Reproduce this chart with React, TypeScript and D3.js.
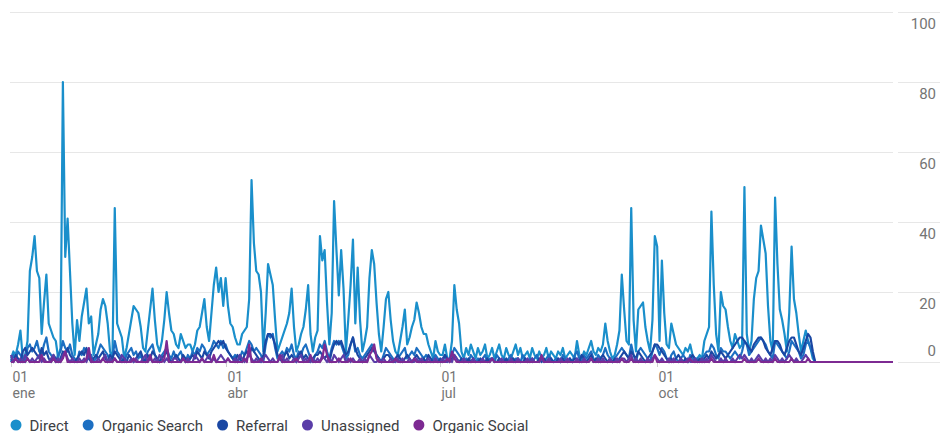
import React, { useEffect, useRef } from 'react';
import * as d3 from 'd3';

const WIDTH = 940;
const HEIGHT = 433;
const DAY = 86400000;

// daily data, 1 Jan 2024 onwards
const startDate = Date.UTC(2024, 0, 1);
const endDate = Date.UTC(2025, 0, 9);

const seriesNames = ['Direct', 'Organic Search', 'Referral', 'Unassigned', 'Organic Social'];
const seriesColors = ['#1a8fcb', '#1c6fc2', '#1a47a3', '#5a3da8', '#7d2a92'];

const direct = [
  1, 3, 2, 5, 9, 1, 2, 6, 26, 30,
  36, 26, 24, 8, 17, 25, 11, 9, 7, 6,
  1, 4, 80, 30, 41, 26, 11, 2, 12, 6,
  13, 17, 21, 11, 13, 2, 5, 8, 15, 18,
  16, 11, 3, 1, 44, 11, 9, 7, 1, 4,
  8, 12, 16, 15, 14, 10, 4, 3, 9, 15,
  21, 12, 5, 3, 6, 12, 20, 14, 9, 8,
  5, 4, 8, 6, 4, 5, 5, 3, 5, 9,
  10, 14, 18, 10, 6, 14, 22, 27, 20, 24,
  16, 24, 16, 11, 10, 7, 5, 5, 8, 9,
  10, 18, 52, 34, 26, 25, 20, 3, 14, 28,
  25, 22, 12, 3, 5, 7, 9, 11, 14, 21,
  10, 3, 5, 8, 10, 15, 22, 8, 3, 7,
  9, 36, 29, 32, 17, 5, 14, 46, 32, 19,
  32, 21, 3, 12, 22, 35, 11, 27, 12, 3,
  6, 10, 24, 32, 28, 17, 8, 3, 10, 18,
  20, 12, 6, 3, 2, 6, 10, 15, 5, 7,
  10, 12, 17, 14, 10, 8, 8, 5, 3, 1,
  6, 3, 2, 2, 5, 1, 1, 6, 22, 15,
  11, 3, 1, 4, 2, 5, 3, 1, 4, 2,
  3, 5, 1, 2, 4, 1, 3, 5, 2, 1,
  4, 2, 1, 3, 5, 2, 4, 1, 2, 3,
  1, 4, 2, 1, 3, 1, 2, 4, 1, 3,
  2, 1, 3, 2, 4, 1, 2, 3, 2, 1,
  6, 2, 1, 3, 2, 4, 6, 3, 2, 4,
  3, 5, 11, 6, 3, 1, 2, 5, 9, 25,
  15, 6, 5, 44, 12, 3, 15, 16, 17, 10,
  6, 3, 12, 36, 33, 6, 29, 14, 5, 4,
  11, 8, 5, 4, 3, 2, 4, 3, 5, 2,
  1, 1, 2, 1, 6, 8, 10, 43, 22, 8,
  3, 20, 16, 15, 10, 6, 4, 8, 6, 4,
  5, 50, 8, 3, 6, 18, 24, 26, 39, 35,
  31, 16, 6, 3, 47, 28, 15, 12, 8, 3,
  14, 33, 18, 14, 8, 3, 6, 9, 6, 4,
  1, 0,
];

const organicSearch = [
  0, 2, 1, 3, 2, 1, 0, 4, 5, 3,
  4, 6, 3, 2, 5, 7, 3, 2, 1, 0,
  2, 3, 6, 4, 3, 5, 2, 1, 0, 3,
  2, 4, 3, 1, 2, 0, 1, 3, 5, 4,
  3, 2, 0, 1, 6, 3, 2, 1, 0, 2,
  3, 4, 2, 3, 1, 2, 0, 1, 3, 4,
  5, 2, 1, 0, 2, 3, 4, 2, 1, 3,
  1, 2, 3, 1, 0, 2, 1, 3, 2, 4,
  3, 5, 4, 2, 3, 4, 6, 5, 4, 6,
  4, 5, 3, 2, 1, 2, 0, 1, 3, 2,
  4, 6, 5, 3, 4, 3, 2, 0, 5, 8,
  7, 8, 4, 1, 2, 3, 2, 4, 3, 5,
  2, 1, 3, 2, 4, 5, 3, 1, 0, 2,
  3, 5, 4, 6, 3, 1, 4, 6, 5, 6,
  5, 3, 1, 2, 5, 7, 3, 4, 2, 1,
  2, 3, 4, 5, 4, 2, 1, 0, 2, 4,
  3, 2, 1, 0, 1, 2, 3, 4, 1, 2,
  3, 2, 4, 3, 2, 1, 2, 1, 0, 1,
  2, 1, 0, 1, 2, 0, 1, 2, 4, 3,
  2, 1, 0, 1, 0, 2, 1, 0, 1, 0,
  1, 2, 0, 1, 1, 0, 2, 1, 0, 1,
  0, 1, 2, 0, 1, 1, 0, 2, 1, 0,
  1, 0, 1, 2, 0, 1, 0, 1, 2, 1,
  0, 1, 1, 0, 2, 1, 0, 1, 0, 2,
  3, 1, 0, 2, 1, 2, 3, 1, 0, 2,
  1, 2, 4, 2, 1, 0, 1, 2, 3, 4,
  3, 2, 1, 5, 2, 0, 3, 4, 3, 2,
  1, 0, 3, 5, 4, 2, 4, 3, 1, 0,
  2, 3, 1, 0, 1, 2, 1, 0, 2, 1,
  0, 1, 0, 1, 2, 3, 3, 5, 4, 2,
  1, 4, 3, 3, 2, 1, 2, 3, 2, 1,
  3, 6, 5, 2, 3, 4, 5, 6, 7, 6,
  5, 3, 2, 1, 6, 5, 4, 3, 2, 1,
  3, 6, 5, 4, 3, 1, 2, 5, 6, 4,
  2, 0,
];

const referral = [
  1, 0, 2, 1, 0, 3, 4, 2, 3, 4,
  3, 2, 1, 4, 2, 3, 1, 0, 2, 1,
  0, 1, 3, 2, 4, 2, 1, 0, 1, 2,
  3, 2, 4, 1, 0, 1, 2, 1, 2, 3,
  1, 0, 2, 1, 3, 2, 1, 0, 1, 0,
  2, 1, 0, 1, 2, 3, 1, 0, 2, 1,
  3, 2, 1, 0, 1, 2, 3, 1, 0, 1,
  2, 1, 0, 2, 1, 0, 1, 2, 1, 3,
  2, 1, 3, 2, 1, 3, 4, 5, 6, 5,
  6, 4, 3, 2, 1, 0, 2, 1, 0, 2,
  3, 2, 4, 3, 2, 1, 0, 2, 6, 8,
  8, 7, 5, 2, 1, 0, 2, 3, 1, 2,
  1, 0, 2, 3, 1, 2, 1, 0, 1, 2,
  2, 3, 2, 1, 2, 0, 3, 5, 6, 5,
  6, 4, 2, 3, 5, 7, 4, 2, 1, 0,
  1, 2, 3, 4, 3, 2, 1, 0, 1, 2,
  2, 1, 0, 1, 2, 1, 0, 1, 2, 1,
  0, 1, 2, 1, 0, 1, 0, 2, 1, 0,
  1, 0, 1, 0, 2, 1, 0, 1, 2, 1,
  0, 1, 0, 0, 1, 0, 1, 0, 0, 1,
  0, 0, 1, 0, 1, 0, 0, 1, 0, 0,
  1, 0, 0, 1, 0, 1, 0, 0, 1, 0,
  0, 1, 0, 0, 1, 0, 1, 0, 0, 1,
  0, 0, 1, 0, 1, 0, 0, 1, 0, 1,
  1, 0, 2, 1, 0, 1, 2, 0, 1, 0,
  1, 2, 1, 0, 1, 0, 1, 0, 1, 2,
  3, 2, 1, 3, 2, 1, 3, 2, 1, 0,
  1, 2, 3, 5, 5, 4, 3, 2, 1, 0,
  1, 0, 1, 2, 1, 0, 1, 0, 1, 2,
  1, 0, 1, 0, 1, 2, 1, 3, 2, 1,
  2, 3, 2, 1, 2, 3, 4, 5, 6, 7,
  7, 6, 5, 4, 3, 5, 6, 7, 7, 6,
  4, 3, 2, 4, 6, 6, 5, 3, 2, 4,
  6, 7, 7, 5, 3, 2, 4, 6, 8, 7,
  3, 0,
];

const unassigned = [
  2, 0, 1, 0, 1, 0, 2, 1, 0, 1,
  0, 1, 2, 0, 1, 0, 0, 1, 2, 0,
  1, 0, 2, 3, 1, 0, 1, 0, 0, 1,
  0, 1, 0, 2, 1, 0, 0, 1, 0, 1,
  2, 0, 1, 0, 1, 0, 0, 2, 1, 0,
  0, 1, 0, 1, 0, 0, 1, 2, 0, 1,
  0, 1, 0, 2, 1, 0, 1, 0, 0, 1,
  1, 0, 0, 1, 0, 1, 0, 0, 2, 1,
  0, 1, 0, 1, 2, 0, 1, 0, 1, 2,
  1, 0, 1, 0, 0, 1, 0, 2, 1, 0,
  1, 2, 1, 0, 1, 0, 0, 1, 2, 1,
  0, 1, 0, 0, 1, 2, 0, 1, 0, 0,
  1, 0, 1, 2, 0, 1, 0, 0, 1, 0,
  1, 0, 2, 1, 0, 1, 0, 2, 1, 0,
  1, 2, 0, 1, 0, 1, 0, 0, 1, 0,
  1, 0, 2, 1, 0, 0, 1, 0, 1, 0,
  0, 1, 0, 0, 1, 0, 1, 0, 0, 1,
  0, 0, 1, 0, 1, 0, 0, 1, 0, 0,
  1, 0, 0, 1, 0, 0, 1, 0, 2, 1,
  0, 0, 1, 0, 0, 0, 1, 0, 0, 0,
  1, 0, 0, 0, 1, 0, 0, 0, 1, 0,
  0, 0, 1, 0, 0, 1, 0, 0, 0, 1,
  0, 1, 0, 0, 0, 1, 0, 0, 1, 0,
  0, 0, 0, 1, 0, 0, 1, 0, 0, 0,
  1, 0, 0, 1, 0, 0, 1, 0, 0, 1,
  0, 1, 0, 0, 1, 0, 0, 1, 0, 1,
  1, 0, 1, 2, 0, 1, 0, 1, 0, 0,
  1, 0, 1, 2, 1, 0, 1, 0, 0, 1,
  0, 1, 0, 0, 1, 0, 0, 1, 0, 0,
  1, 0, 0, 1, 0, 1, 0, 2, 1, 0,
  0, 1, 0, 1, 0, 0, 1, 0, 1, 2,
  1, 2, 1, 0, 1, 0, 1, 2, 1, 0,
  1, 0, 1, 0, 2, 1, 0, 1, 0, 1,
  2, 1, 0, 1, 0, 0, 1, 2, 1, 0,
  0, 0,
];

const organicSocial = [
  0, 0, 1, 0, 0, 0, 0, 1, 0, 0,
  0, 0, 0, 2, 0, 0, 0, 0, 1, 0,
  0, 0, 1, 3, 0, 0, 0, 0, 0, 0,
  0, 0, 1, 4, 0, 0, 0, 0, 0, 1,
  0, 0, 0, 0, 1, 0, 0, 0, 0, 0,
  0, 0, 1, 0, 0, 0, 0, 0, 0, 2,
  0, 0, 0, 0, 0, 1, 6, 0, 0, 0,
  0, 0, 0, 1, 0, 0, 0, 0, 0, 0,
  0, 1, 0, 0, 0, 0, 2, 0, 0, 0,
  0, 0, 1, 0, 0, 0, 0, 0, 0, 1,
  0, 5, 0, 0, 0, 0, 1, 0, 0, 0,
  0, 0, 0, 0, 2, 0, 0, 0, 0, 0,
  0, 1, 0, 0, 0, 0, 0, 2, 0, 0,
  0, 0, 1, 5, 2, 0, 0, 0, 0, 1,
  0, 0, 0, 0, 1, 0, 0, 0, 0, 0,
  0, 0, 2, 3, 5, 1, 0, 0, 0, 0,
  0, 0, 0, 1, 0, 0, 0, 0, 0, 0,
  0, 1, 0, 0, 0, 0, 0, 0, 0, 0,
  0, 0, 0, 0, 0, 1, 0, 3, 1, 0,
  0, 0, 0, 0, 0, 0, 0, 0, 0, 0,
  0, 0, 0, 0, 1, 0, 0, 0, 0, 0,
  0, 0, 0, 0, 0, 0, 0, 0, 0, 0,
  0, 0, 0, 0, 0, 2, 0, 0, 0, 0,
  0, 0, 0, 0, 0, 0, 0, 0, 0, 0,
  0, 0, 0, 0, 0, 0, 1, 0, 0, 0,
  0, 0, 0, 0, 0, 0, 0, 0, 0, 1,
  0, 0, 0, 1, 0, 0, 0, 0, 0, 0,
  0, 0, 0, 2, 0, 0, 0, 0, 0, 0,
  0, 0, 0, 0, 0, 0, 0, 0, 1, 0,
  0, 0, 0, 0, 0, 0, 0, 1, 0, 0,
  0, 0, 0, 0, 0, 0, 0, 0, 0, 0,
  0, 1, 0, 0, 0, 0, 0, 1, 0, 0,
  0, 0, 0, 0, 1, 0, 0, 0, 0, 0,
  0, 1, 0, 0, 0, 0, 0, 0, 1, 0,
  0, 0, 0, 0, 0, 0, 0, 0, 0, 0,
  0, 0, 0, 0, 0, 0, 0, 0, 0, 0,
  0, 0, 0, 0, 0, 0, 0, 0, 0, 0,
  0, 0, 0, 0, 0,
];

const yTicks = [0, 20, 40, 60, 80, 100];
const xTickDates = [Date.UTC(2024, 0, 1), Date.UTC(2024, 3, 1), Date.UTC(2024, 6, 1), Date.UTC(2024, 9, 1)];
const xTickDays = ['01', '01', '01', '01'];
const xTickMonths = ['ene', 'abr', 'jul', 'oct'];

const FONT = 'Roboto, "Noto Sans", Arial, sans-serif';

const App: React.FC = () => {
  const svgRef = useRef<SVGSVGElement>(null);

  useEffect(() => {
    document.body.style.margin = '0';
    if (!svgRef.current) return;
    const svg = d3.select(svgRef.current);
    svg.selectAll('*').remove();

    const x = d3.scaleUtc().domain([new Date(startDate), new Date(endDate)]).range([11, 893]);
    const y = d3.scaleLinear().domain([0, 100]).range([362, 12]);

    // gridlines + right-hand value labels
    const grid = svg.append('g');
    yTicks.forEach(t => {
      const gy = Math.round(y(t)) + 0.5;
      grid.append('line')
        .attr('x1', 10).attr('x2', 893).attr('y1', gy).attr('y2', gy)
        .attr('stroke', '#e7e7e7').attr('stroke-width', 1);
      grid.append('line')
        .attr('x1', 898).attr('x2', WIDTH).attr('y1', gy).attr('y2', gy)
        .attr('stroke', '#e7e7e7').attr('stroke-width', 1);
      grid.append('text')
        .attr('x', 936)
        .attr('y', t === 0 ? gy - 7 : gy + 16)
        .attr('text-anchor', 'end')
        .attr('font-family', FONT).attr('font-size', 15)
        .attr('fill', '#757575')
        .text(t);
    });

    // x ticks: day over month
    const xAxis = svg.append('g');
    xTickDates.forEach((d, i) => {
      const tx = Math.round(x(new Date(d))) + 0.5;
      xAxis.append('line')
        .attr('x1', tx).attr('x2', tx).attr('y1', 363).attr('y2', 367)
        .attr('stroke', '#cfcfcf');
      const label = xAxis.append('text')
        .attr('x', tx + 1).attr('y', 382)
        .attr('font-family', FONT).attr('font-size', 14).attr('fill', '#757575');
      label.append('tspan').attr('x', tx + 1).text(xTickDays[i]);
      label.append('tspan').attr('x', tx + 1).attr('dy', 16).text(xTickMonths[i]);
    });

    // series lines
    const series = [direct, organicSearch, referral, unassigned, organicSocial];
    const line = d3.line<number>()
      .x((_, i) => x(new Date(startDate + i * DAY)))
      .y(d => y(d))
      .curve(d3.curveLinear);

    series.forEach((values, k) => {
      svg.append('path')
        .attr('d', line(values))
        .attr('fill', 'none')
        .attr('stroke', seriesColors[k])
        .attr('stroke-width', 2.2)
        .attr('stroke-linejoin', 'round');
    });

    // legend
    const legend = svg.append('g');
    let lx = 16;
    seriesNames.forEach((name, k) => {
      legend.append('circle')
        .attr('cx', lx).attr('cy', 425).attr('r', 5.5)
        .attr('fill', seriesColors[k]);
      const txt = legend.append('text')
        .attr('x', lx + 13.5).attr('y', 430.5)
        .attr('font-family', FONT).attr('font-size', 15).attr('fill', '#3c4043')
        .text(name);
      const w = (txt.node() as SVGTextElement).getComputedTextLength();
      lx = lx + 13.5 + w + 19.5;
    });
  }, []);

  return (
    <svg ref={svgRef} width={WIDTH} height={HEIGHT} style={{ display: 'block', background: '#fff' }} />
  );
};

export default App;
